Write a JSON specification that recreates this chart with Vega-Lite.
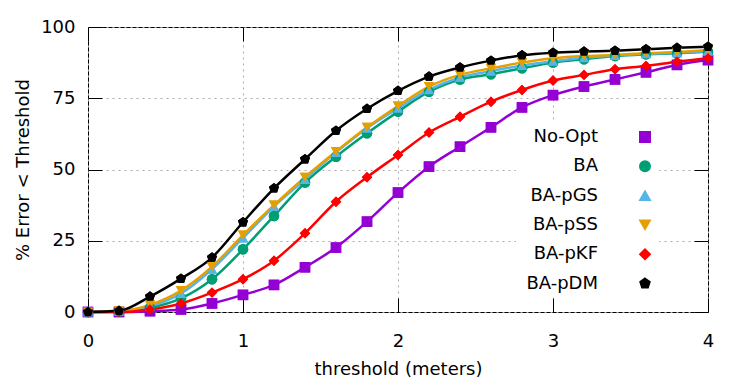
{
  "$schema": "https://vega.github.io/schema/vega-lite/v6.json",
  "width": 620,
  "height": 285,
  "autosize": {"type": "none"},
  "padding": {"left": 88, "top": 27, "right": 39, "bottom": 76},
  "background": "white",
  "config": {
    "font": "DejaVu Sans",
    "view": {"stroke": "black", "strokeWidth": 1},
    "axis": {
      "labelFont": "DejaVu Sans",
      "labelFontSize": 18,
      "labelColor": "black",
      "titleFont": "DejaVu Sans",
      "titleFontSize": 18,
      "titleFontWeight": "normal",
      "titleColor": "black",
      "domain": false,
      "tickColor": "black",
      "tickWidth": 1,
      "gridColor": "#aaaaaa",
      "gridDash": [2, 4],
      "gridWidth": 1
    },
    "legend": {
      "title": null, "orient": "none", "legendX": 428, "legendY": 96,
      "labelAlign": "right", "labelOffset": -56, "symbolOffset": 115, "labelFontSize": 18, "labelFont": "DejaVu Sans", "labelColor": "black", "labelLimit": 300,
      "rowPadding": 11.3, "fillColor": "white", "padding": 5
    }
  },
  "data": {
    "values": [
      {"s":"No-Opt","x":0,"y":0},{"s":"No-Opt","x":0.2,"y":0},{"s":"No-Opt","x":0.4,"y":0.3},{"s":"No-Opt","x":0.6,"y":0.9},{"s":"No-Opt","x":0.8,"y":3},{"s":"No-Opt","x":1,"y":6},{"s":"No-Opt","x":1.2,"y":9.5},{"s":"No-Opt","x":1.4,"y":15.7},{"s":"No-Opt","x":1.6,"y":22.6},{"s":"No-Opt","x":1.8,"y":31.7},{"s":"No-Opt","x":2,"y":41.9},{"s":"No-Opt","x":2.2,"y":51},{"s":"No-Opt","x":2.4,"y":58},{"s":"No-Opt","x":2.6,"y":64.8},{"s":"No-Opt","x":2.8,"y":71.8},{"s":"No-Opt","x":3,"y":76.1},{"s":"No-Opt","x":3.2,"y":79.1},{"s":"No-Opt","x":3.4,"y":81.6},{"s":"No-Opt","x":3.6,"y":84.1},{"s":"No-Opt","x":3.8,"y":86.7},{"s":"No-Opt","x":4,"y":88.4},
      {"s":"BA","x":0,"y":0},{"s":"BA","x":0.2,"y":0.2},{"s":"BA","x":0.4,"y":1.5},{"s":"BA","x":0.6,"y":4.8},{"s":"BA","x":0.8,"y":11.5},{"s":"BA","x":1,"y":22},{"s":"BA","x":1.2,"y":33.7},{"s":"BA","x":1.4,"y":45.4},{"s":"BA","x":1.6,"y":54.5},{"s":"BA","x":1.8,"y":62.7},{"s":"BA","x":2,"y":70.3},{"s":"BA","x":2.2,"y":77.3},{"s":"BA","x":2.4,"y":81.6},{"s":"BA","x":2.6,"y":83.4},{"s":"BA","x":2.8,"y":85.5},{"s":"BA","x":3,"y":87.5},{"s":"BA","x":3.2,"y":88.7},{"s":"BA","x":3.4,"y":89.8},{"s":"BA","x":3.6,"y":90.4},{"s":"BA","x":3.8,"y":90.8},{"s":"BA","x":4,"y":91.3},
      {"s":"BA-pGS","x":0,"y":0},{"s":"BA-pGS","x":0.2,"y":0.3},{"s":"BA-pGS","x":0.4,"y":2},{"s":"BA-pGS","x":0.6,"y":6.5},{"s":"BA-pGS","x":0.8,"y":15},{"s":"BA-pGS","x":1,"y":26},{"s":"BA-pGS","x":1.2,"y":37},{"s":"BA-pGS","x":1.4,"y":46.5},{"s":"BA-pGS","x":1.6,"y":56},{"s":"BA-pGS","x":1.8,"y":64.5},{"s":"BA-pGS","x":2,"y":71.5},{"s":"BA-pGS","x":2.2,"y":78},{"s":"BA-pGS","x":2.4,"y":82.3},{"s":"BA-pGS","x":2.6,"y":84.5},{"s":"BA-pGS","x":2.8,"y":86.5},{"s":"BA-pGS","x":3,"y":88},{"s":"BA-pGS","x":3.2,"y":89.2},{"s":"BA-pGS","x":3.4,"y":90},{"s":"BA-pGS","x":3.6,"y":90.6},{"s":"BA-pGS","x":3.8,"y":91},{"s":"BA-pGS","x":4,"y":91.5},
      {"s":"BA-pSS","x":0,"y":0},{"s":"BA-pSS","x":0.2,"y":0.3},{"s":"BA-pSS","x":0.4,"y":2.5},{"s":"BA-pSS","x":0.6,"y":7.5},{"s":"BA-pSS","x":0.8,"y":15.9},{"s":"BA-pSS","x":1,"y":27},{"s":"BA-pSS","x":1.2,"y":37.5},{"s":"BA-pSS","x":1.4,"y":47.3},{"s":"BA-pSS","x":1.6,"y":56.3},{"s":"BA-pSS","x":1.8,"y":64.8},{"s":"BA-pSS","x":2,"y":72.3},{"s":"BA-pSS","x":2.2,"y":79.1},{"s":"BA-pSS","x":2.4,"y":83.2},{"s":"BA-pSS","x":2.6,"y":85.5},{"s":"BA-pSS","x":2.8,"y":87.5},{"s":"BA-pSS","x":3,"y":89},{"s":"BA-pSS","x":3.2,"y":89.8},{"s":"BA-pSS","x":3.4,"y":90.2},{"s":"BA-pSS","x":3.6,"y":90.8},{"s":"BA-pSS","x":3.8,"y":91.2},{"s":"BA-pSS","x":4,"y":91.9},
      {"s":"BA-pKF","x":0,"y":0},{"s":"BA-pKF","x":0.2,"y":0},{"s":"BA-pKF","x":0.4,"y":0.9},{"s":"BA-pKF","x":0.6,"y":3},{"s":"BA-pKF","x":0.8,"y":6.8},{"s":"BA-pKF","x":1,"y":11.5},{"s":"BA-pKF","x":1.2,"y":18},{"s":"BA-pKF","x":1.4,"y":27.6},{"s":"BA-pKF","x":1.6,"y":38.7},{"s":"BA-pKF","x":1.8,"y":47.3},{"s":"BA-pKF","x":2,"y":55.1},{"s":"BA-pKF","x":2.2,"y":63},{"s":"BA-pKF","x":2.4,"y":68.5},{"s":"BA-pKF","x":2.6,"y":73.8},{"s":"BA-pKF","x":2.8,"y":77.9},{"s":"BA-pKF","x":3,"y":81.2},{"s":"BA-pKF","x":3.2,"y":83.2},{"s":"BA-pKF","x":3.4,"y":85.2},{"s":"BA-pKF","x":3.6,"y":86.3},{"s":"BA-pKF","x":3.8,"y":87.8},{"s":"BA-pKF","x":4,"y":89},
      {"s":"BA-pDM","x":0,"y":0},{"s":"BA-pDM","x":0.2,"y":0.4},{"s":"BA-pDM","x":0.4,"y":5.4},{"s":"BA-pDM","x":0.6,"y":11.7},{"s":"BA-pDM","x":0.8,"y":19.1},{"s":"BA-pDM","x":1,"y":31.5},{"s":"BA-pDM","x":1.2,"y":43.4},{"s":"BA-pDM","x":1.4,"y":53.6},{"s":"BA-pDM","x":1.6,"y":63.6},{"s":"BA-pDM","x":1.8,"y":71.3},{"s":"BA-pDM","x":2,"y":77.6},{"s":"BA-pDM","x":2.2,"y":82.6},{"s":"BA-pDM","x":2.4,"y":85.8},{"s":"BA-pDM","x":2.6,"y":88.2},{"s":"BA-pDM","x":2.8,"y":90.1},{"s":"BA-pDM","x":3,"y":91},{"s":"BA-pDM","x":3.2,"y":91.4},{"s":"BA-pDM","x":3.4,"y":91.7},{"s":"BA-pDM","x":3.6,"y":92.2},{"s":"BA-pDM","x":3.8,"y":92.7},{"s":"BA-pDM","x":4,"y":93.1}
    ]
  },
  "layer": [
    {
      "mark": {"type": "point", "filled": true, "opacity": 1},
      "encoding": {
        "x": {"field": "x", "type": "quantitative", "axis": null},
        "y": {"field": "y", "type": "quantitative", "axis": null},
        "color": {"field": "s", "type": "nominal",
                  "scale": {"domain": ["No-Opt", "BA", "BA-pGS", "BA-pSS", "BA-pKF", "BA-pDM"], "range": ["#9400d3", "#009e73", "#56b4e9", "#e69f00", "#ff0000", "#000000"]},
                  "legend": {
                    "encode": {"symbols": {
                      "shape": {"value": {"expr": "datum.value === 'No-Opt' ? 'M-7,0H7M-1.05,-1.05H1.05V1.05H-1.05Z' : datum.value === 'BA' ? 'M-7,0H7M1.1,0A1.1,1.1,0,1,1,-1.1,0A1.1,1.1,0,1,1,1.1,0Z' : datum.value === 'BA-pGS' ? 'M-7,0H7M0,-1.35L1.25,0.85L-1.25,0.85Z' : datum.value === 'BA-pSS' ? 'M-7,0H7M0,1.35L1.25,-0.85L-1.25,-0.85Z' : datum.value === 'BA-pKF' ? 'M-7,0H7M0,-1.4L1.4,0L0,1.4L-1.4,0Z' : 'M-7,0H7M0,-1.25L1.19,-0.386L0.735,1.01L-0.735,1.01L-1.19,-0.386Z'"}},
                      "size": {"value": 100},
                      "fill": {"value": {"expr": "scale('color', datum.value)"}},
                      "stroke": {"value": {"expr": "scale('color', datum.value)"}},
                      "strokeWidth": {"value": 2.5},
                      "opacity": {"value": 1}
                    }}
                  }},
        "shape": {"field": "s", "type": "nominal",
                  "scale": {"domain": ["No-Opt", "BA", "BA-pGS", "BA-pSS", "BA-pKF", "BA-pDM"], "range": ["square", "circle", "triangle-up", "triangle-down", "diamond", "M0,-1L0.951,-0.309L0.588,0.809L-0.588,0.809L-0.951,-0.309Z"]},
                  "legend": null},
        "size": {"field": "s", "type": "nominal",
                 "scale": {"domain": ["No-Opt", "BA", "BA-pGS", "BA-pSS", "BA-pKF", "BA-pDM"], "range": [110, 110, 150, 150, 180, 170]},
                 "legend": null}
      }
    },
    {
      "mark": {"type": "line", "strokeWidth": 2.5, "interpolate": "monotone"},
      "encoding": {
        "x": {"field": "x", "type": "quantitative", "scale": {"domain": [0, 4], "nice": false, "zero": false},
              "axis": {"orient": "bottom", "values": [0, 1, 2, 3, 4], "grid": true, "tickSize": -14, "labelPadding": 34, "title": "threshold (meters)", "titlePadding": 10, "labelFlush": false}},
        "y": {"field": "y", "type": "quantitative", "scale": {"domain": [0, 100], "nice": false},
              "axis": {"orient": "left", "values": [0, 25, 50, 75, 100], "grid": true, "tickSize": -14, "labelPadding": 27, "title": "% Error < Threshold", "titlePadding": 8, "labelFlush": false}},
        "color": {"field": "s", "type": "nominal",
                  "scale": {"domain": ["No-Opt", "BA", "BA-pGS", "BA-pSS", "BA-pKF", "BA-pDM"], "range": ["#9400d3", "#009e73", "#56b4e9", "#e69f00", "#ff0000", "#000000"]}}
      }
    },
    {
      "mark": {"type": "point", "filled": true, "opacity": 1},
      "encoding": {
        "x": {"field": "x", "type": "quantitative",
              "axis": {"orient": "top", "values": [0, 1, 2, 3, 4], "grid": false, "labels": false, "tickSize": -14, "title": null}},
        "y": {"field": "y", "type": "quantitative",
              "axis": {"orient": "right", "values": [0, 25, 50, 75, 100], "grid": false, "labels": false, "tickSize": -14, "title": null}},
        "color": {"field": "s", "type": "nominal",
                  "scale": {"domain": ["No-Opt", "BA", "BA-pGS", "BA-pSS", "BA-pKF", "BA-pDM"], "range": ["#9400d3", "#009e73", "#56b4e9", "#e69f00", "#ff0000", "#000000"]}},
        "shape": {"field": "s", "type": "nominal",
                  "scale": {"domain": ["No-Opt", "BA", "BA-pGS", "BA-pSS", "BA-pKF", "BA-pDM"], "range": ["square", "circle", "triangle-up", "triangle-down", "diamond", "M0,-1L0.951,-0.309L0.588,0.809L-0.588,0.809L-0.951,-0.309Z"]},
                  "legend": null},
        "size": {"field": "s", "type": "nominal",
                 "scale": {"domain": ["No-Opt", "BA", "BA-pGS", "BA-pSS", "BA-pKF", "BA-pDM"], "range": [110, 110, 150, 150, 180, 170]},
                 "legend": null}
      }
    }
  ],
  "resolve": {"axis": {"x": "independent", "y": "independent"}}
}
